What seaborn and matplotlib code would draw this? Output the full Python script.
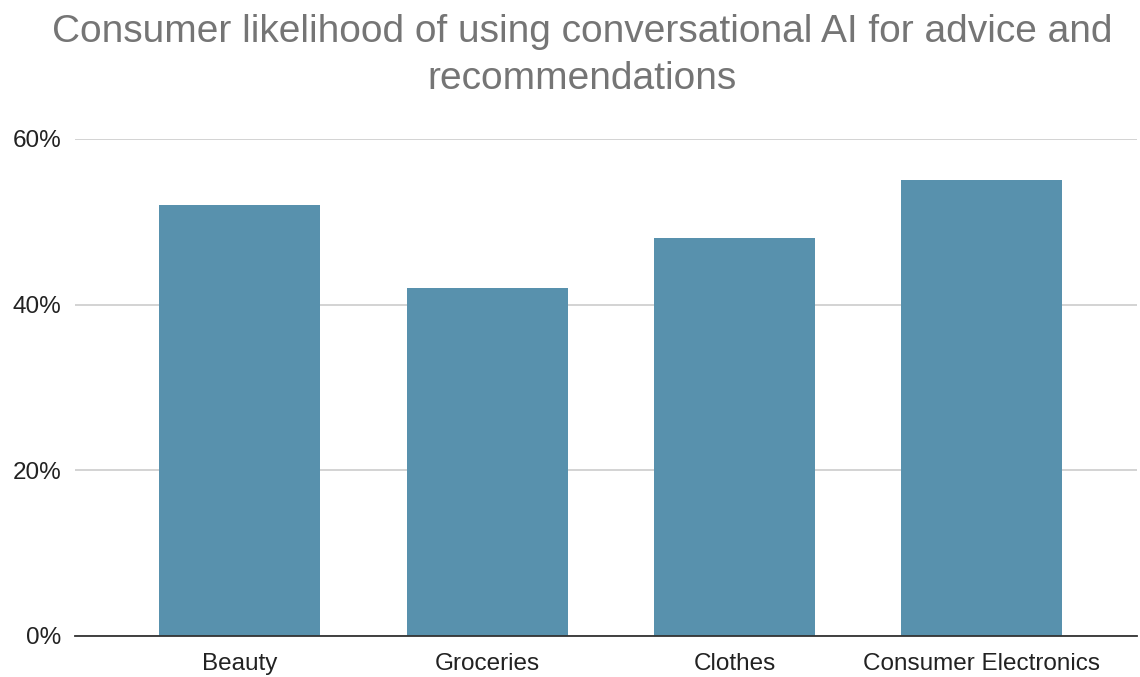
import matplotlib
matplotlib.use("Agg")
import matplotlib.pyplot as plt
import seaborn as sns
import pandas as pd
from matplotlib.ticker import PercentFormatter

# Chart data
categories = ["Beauty", "Groceries", "Clothes", "Consumer Electronics"]
likelihood = [0.52, 0.42, 0.48, 0.55]

df = pd.DataFrame({"Category": categories, "Likelihood": likelihood})

sns.set_style("white")
plt.rcParams["font.family"] = ["Liberation Sans", "DejaVu Sans"]

fig = plt.figure(figsize=(11.4, 6.77), dpi=100)
ax = fig.add_axes([0.0658, 0.0606, 0.9315, 0.7341])

sns.barplot(data=df, x="Category", y="Likelihood", color="#5891AD",
            saturation=1, width=0.651, ax=ax, zorder=3, linewidth=0)

ax.set_xlim(-0.667, 3.627)
ax.set_ylim(0, 0.6)
ax.set_yticks([0, 0.2, 0.4, 0.6])
ax.yaxis.set_major_formatter(PercentFormatter(1.0, decimals=0))
ax.grid(axis="y", color="#cccccc", linewidth=1.2, zorder=0)
ax.set_axisbelow(True)

for s in ["top", "right", "left"]:
    ax.spines[s].set_visible(False)
ax.spines["bottom"].set_color("#333333")
ax.spines["bottom"].set_linewidth(1.3)
ax.spines["bottom"].set_zorder(4)

ax.set_xlabel("")
ax.set_ylabel("")
ax.tick_params(axis="both", length=0, labelsize=17.5, labelcolor="#222222")
ax.tick_params(axis="x", pad=12)
ax.tick_params(axis="y", pad=10)

fig.text(0.5105, 0.918, "Consumer likelihood of using conversational AI for advice and\nrecommendations",
         ha="center", va="center", fontsize=28, color="#757575", linespacing=1.38)

fig.savefig("out.png", dpi=100)
